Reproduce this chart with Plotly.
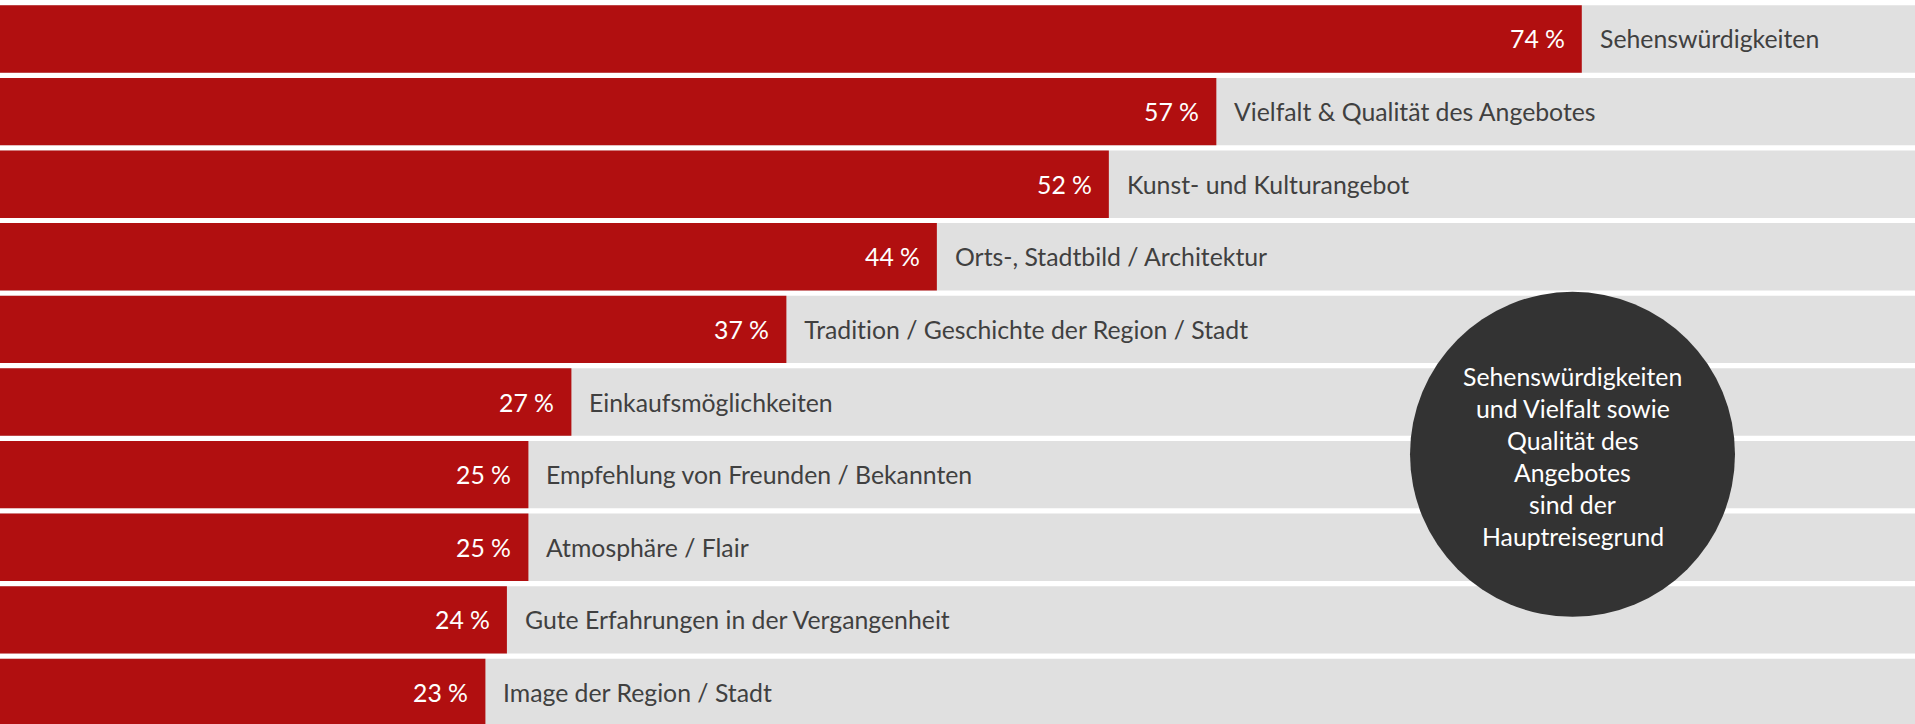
import plotly.graph_objects as go

categories = [
    "Sehenswürdigkeiten",
    "Vielfalt & Qualität des Angebotes",
    "Kunst- und Kulturangebot",
    "Orts-, Stadtbild / Architektur",
    "Tradition / Geschichte der Region / Stadt",
    "Einkaufsmöglichkeiten",
    "Empfehlung von Freunden / Bekannten",
    "Atmosphäre / Flair",
    "Gute Erfahrungen in der Vergangenheit",
    "Image der Region / Stadt",
]
values = [74, 57, 52, 44, 37, 27, 25, 25, 24, 23]
track = [100] * len(categories)
circle_lines = [
    "Sehenswürdigkeiten",
    "und Vielfalt sowie",
    "Qualität des",
    "Angebotes",
    "sind der",
    "Hauptreisegrund",
]

RED = "#B10F10"
GRAY = "#E0E0E0"
TEXT = "#404040"
FONT = "Lato"
FS = 24.8

fig = go.Figure()
fig.add_trace(go.Bar(x=track, y=categories, orientation="h", width=0.928,
                     marker=dict(color=GRAY, line=dict(width=0)), hoverinfo="skip"))
fig.add_trace(go.Bar(x=values, y=categories, orientation="h", width=0.928,
                     marker=dict(color=RED, line=dict(width=0))))

ann = []
for c, v in zip(categories, values):
    ann.append(dict(x=v, y=c, xref="x", yref="y", text=f"{v} %", showarrow=False,
                    xanchor="right", yanchor="middle", xshift=-15,
                    font=dict(family=FONT, size=FS, color="white")))
    ann.append(dict(x=v, y=c, xref="x", yref="y", text=c, showarrow=False,
                    xanchor="left", yanchor="middle", xshift=16,
                    font=dict(family=FONT, size=FS, color=TEXT)))

W, H = 1915, 724
cx, cy, r = 1572.5, 454.3, 162.5
shapes = [dict(type="circle", xref="paper", yref="paper",
               x0=(cx - r) / W, x1=(cx + r) / W,
               y0=1 - (cy + r) / H, y1=1 - (cy - r) / H,
               fillcolor="#333333", line=dict(width=0), layer="above")]

line_gap = 32
first = 376.7
for i, t in enumerate(circle_lines):
    ann.append(dict(x=cx / W, y=1 - (first + i * line_gap) / H, xref="paper", yref="paper",
                    text=t, showarrow=False, xanchor="center", yanchor="middle",
                    font=dict(family=FONT, size=FS, color="white")))

fig.update_layout(
    width=W, height=H,
    margin=dict(l=0, r=0, t=0, b=0, pad=0),
    barmode="overlay",
    showlegend=False,
    plot_bgcolor="white", paper_bgcolor="white",
    xaxis=dict(range=[0.42, 89.5], visible=False, fixedrange=True),
    yaxis=dict(type="category", categoryorder="array", categoryarray=categories,
               range=[9.435, -0.537], visible=False, fixedrange=True),
    annotations=ann,
    shapes=shapes,
)

post = (
    "document.body.style.margin='0';document.body.style.overflow='hidden';"
    "var s=document.createElement('style');"
    "s.textContent='text{font-variant-ligatures:none !important;font-feature-settings:\"liga\" 0 !important;}';"
    "document.head.appendChild(s);"
)
fig.write_html("out.html", config={"displayModeBar": False}, post_script=post)
